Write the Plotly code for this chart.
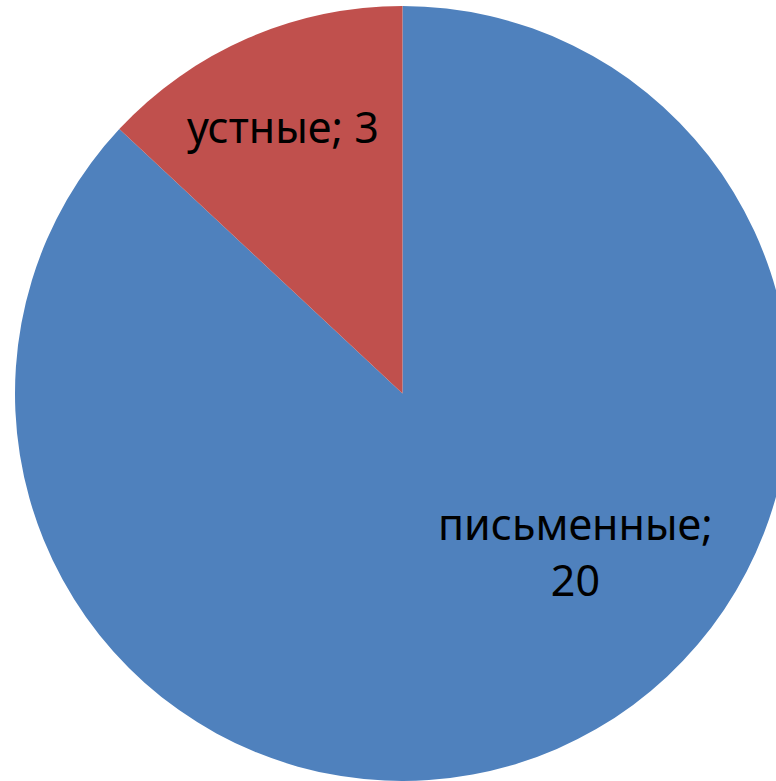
import plotly.graph_objects as go

categories = ["письменные", "устные"]
values = [20, 3]
colors = ["#4F81BD", "#C0504D"]

W, H = 805, 781

fig = go.Figure(go.Pie(
    labels=categories,
    values=values,
    sort=False,
    direction="clockwise",
    rotation=0,
    marker=dict(colors=colors, line=dict(width=0)),
    textinfo="none",
    hoverinfo="label+value",
    showlegend=False,
    domain=dict(x=[0, 1], y=[0, 775 / H]),
))

label_pos = [(575 / W, (H - 551) / H), (283 / W, (H - 127) / H)]
label_text = [f"{categories[0]};<br>{values[0]}", f"{categories[1]}; {values[1]}"]
for (x, y), t in zip(label_pos, label_text):
    fig.add_annotation(x=x, y=y, xref="paper", yref="paper", text=t, showarrow=False,
                       font=dict(family="Noto Sans", size=43, color="#000000"),
                       xanchor="center", yanchor="middle")

fig.update_layout(width=W, height=H, margin=dict(l=0, r=0, t=0, b=0),
                  paper_bgcolor="white", plot_bgcolor="white")

fig.write_html("out.html", config={"displayModeBar": False},
               post_script="document.body.style.margin='0';document.body.style.overflow='hidden';")
